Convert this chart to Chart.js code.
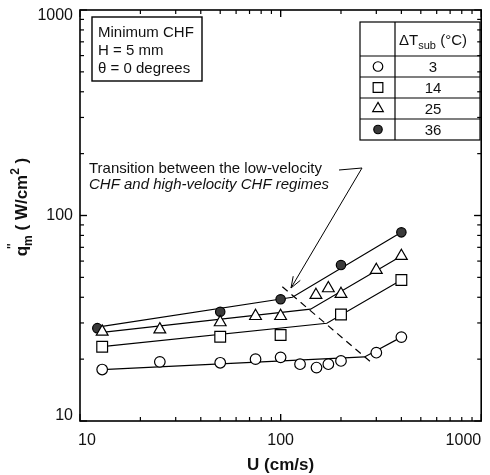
<!DOCTYPE html>
<html>
<head>
<meta charset="utf-8">
<script src="https://cdn.jsdelivr.net/npm/chart.js@4.4.0/dist/chart.umd.min.js"></script>
<style>
  html, body { margin: 0; padding: 0; background: #fff; }
</style>
</head>
<body>
<canvas id="grafica" width="490" height="475"></canvas>
<script>
// --- Data ---
const u3  = [12.9, 25, 50, 75, 100, 125, 151, 173, 200, 300, 400];
const q3  = [17.8, 19.4, 19.2, 20.0, 20.4, 18.9, 18.2, 18.9, 19.6, 21.5, 25.6];

const u14 = [12.9, 50, 100, 200, 400];
const q14 = [23.0, 25.7, 26.2, 33.0, 48.5];

const u25 = [12.9, 25, 50, 75, 100, 150, 173, 200, 300, 400];
const q25 = [27.2, 27.9, 30.2, 32.4, 32.4, 41.0, 44.2, 41.5, 54.3, 63.5];

const u36 = [12.2, 50, 100, 200, 400];
const q36 = [28.3, 34.0, 39.1, 57.4, 82.8];

// fitted lines (start, break, end)
const fitU3  = [12.9, 262, 400];
const fitQ3  = [17.8, 20.5, 25.6];
const fitU14 = [12.9, 170, 400];
const fitQ14 = [23.0, 29.9, 48.5];
const fitU25 = [12.9, 141, 400];
const fitQ25 = [27.0, 35.0, 63.5];
const fitU36 = [12.2, 114.5, 400];
const fitQ36 = [28.6, 40.0, 82.8];

// transition (dashed)
const transU = [102, 290];
const transQ = [45.0, 18.9];

const xTicks = [10, 100, 1000];
const yTicks = [10, 100, 1000];
const subTemps = ['3', '14', '25', '36'];

const FONT = '"Liberation Sans", Arial, Helvetica, sans-serif';

const pts = (us, qs) => us.map((u, i) => ({ x: u, y: qs[i] }));

function lineSet(us, qs, dash) {
  return {
    data: pts(us, qs), showLine: true, pointRadius: 0,
    borderColor: '#000', borderWidth: 1.2, borderDash: dash || [], order: 2
  };
}

const marks = [
  { pointStyle: 'circle',   radius: 5.3, fill: '#fff' },
  { pointStyle: 'rect',     radius: 7.6, fill: '#fff' },
  { pointStyle: 'triangle', radius: 6.8, fill: '#fff' },
  { pointStyle: 'circle',   radius: 4.7, fill: '#3a3a3a' }
];

function markSet(us, qs, m) {
  return {
    data: pts(us, qs), showLine: false,
    pointStyle: m.pointStyle, pointRadius: m.radius,
    backgroundColor: m.fill, borderColor: '#000', borderWidth: 1.2, order: 1
  };
}

// --- Decoration: frame, ticks, labels, boxes ---
const decor = {
  id: 'decor',
  afterDatasetsDraw(chart) {
    const { ctx, chartArea: a, scales: { x, y } } = chart;
    ctx.save();
    ctx.strokeStyle = '#000';
    ctx.fillStyle = '#111';

    const seg = (x1, y1, x2, y2) => { ctx.beginPath(); ctx.moveTo(x1, y1); ctx.lineTo(x2, y2); ctx.stroke(); };

    ctx.lineWidth = 1.6;
    ctx.strokeRect(a.left, a.top, a.right - a.left, a.bottom - a.top);

    // ticks inward, on all four sides
    ctx.lineWidth = 1.2;
    for (let d = 10; d < 1000; d *= 10) {
      for (let k = 1; k <= 10; k++) {
        const v = d * k;
        const len = (k === 1 || k === 10) ? 7 : 4;
        const px = x.getPixelForValue(v);
        const py = y.getPixelForValue(v);
        seg(px, a.bottom, px, a.bottom - len);
        seg(px, a.top, px, a.top + len);
        seg(a.left, py, a.left + len, py);
        seg(a.right, py, a.right - len, py);
      }
    }

    // tick labels
    ctx.font = '16px ' + FONT;
    ctx.textBaseline = 'alphabetic';
    xTicks.forEach((v, i) => {
      const px = x.getPixelForValue(v);
      if (i === 0) { ctx.textAlign = 'left'; ctx.fillText(String(v), px - 2, 445); }
      else if (i === xTicks.length - 1) { ctx.textAlign = 'right'; ctx.fillText(String(v), Math.min(px, chart.width - 2), 445); }
      else { ctx.textAlign = 'center'; ctx.fillText(String(v), px, 445); }
    });
    ctx.textAlign = 'right';
    ctx.textBaseline = 'middle';
    yTicks.forEach(v => {
      const py = Math.min(Math.max(y.getPixelForValue(v), a.top + 6), a.bottom - 5);
      ctx.fillText(String(v), a.left - 7, py);
    });

    // x title
    ctx.font = 'bold 17px ' + FONT;
    ctx.textAlign = 'center';
    ctx.textBaseline = 'alphabetic';
    ctx.fillText('U (cm/s)', (a.left + a.right) / 2, 470);

    // y title  q''m ( W/cm2 )
    ctx.save();
    ctx.translate(27, 207);
    ctx.rotate(-Math.PI / 2);
    ctx.textAlign = 'left';
    const big = 'bold 17px ' + FONT, small = 'bold 12px ' + FONT;
    ctx.font = big;   const wq = ctx.measureText('q').width;
    ctx.font = small; const wm = ctx.measureText('m').width;
    ctx.font = big;   const wa = ctx.measureText(' ( W/cm').width;
    ctx.font = small; const w2 = ctx.measureText('2').width;
    ctx.font = big;   const wb = ctx.measureText(' )').width;
    let cx = -(wq + wm + wa + w2 + wb) / 2;
    ctx.font = big;   ctx.fillText('q', cx, 0);
    ctx.font = small; ctx.fillText("''", cx + wq * 0.7, -11);
    ctx.fillText('m', cx + wq, 5);
    cx += wq + wm;
    ctx.font = big;   ctx.fillText(' ( W/cm', cx, 0); cx += wa;
    ctx.font = small; ctx.fillText('2', cx, -8); cx += w2;
    ctx.font = big;   ctx.fillText(' )', cx, 0);
    ctx.restore();

    // top-left info box
    ctx.lineWidth = 1.4;
    ctx.strokeRect(92, 17, 110, 64);
    ctx.font = '15px ' + FONT;
    ctx.textAlign = 'left';
    ctx.fillText('Minimum CHF', 98, 37);
    ctx.fillText('H = 5 mm', 98, 55);
    ctx.fillText('\u03B8 = 0 degrees', 98, 73);

    // legend table
    const tl = 360, tr = 480, tdiv = 395;
    const rows = [22, 56, 77, 98, 119, 140];
    ctx.lineWidth = 1.2;
    ctx.strokeRect(tl, rows[0], tr - tl, rows[rows.length - 1] - rows[0]);
    seg(tdiv, rows[0], tdiv, rows[rows.length - 1]);
    for (let i = 1; i < rows.length - 1; i++) seg(tl, rows[i], tr, rows[i]);

    ctx.font = '15px ' + FONT;
    const wD = ctx.measureText('\u0394T').width;
    ctx.font = '11px ' + FONT;
    const wS = ctx.measureText('sub').width;
    ctx.font = '15px ' + FONT;
    const wC = ctx.measureText(' (\u00B0C)').width;
    let hx = 433 - (wD + wS + wC) / 2;
    ctx.fillText('\u0394T', hx, 45); hx += wD;
    ctx.font = '11px ' + FONT; ctx.fillText('sub', hx, 49); hx += wS;
    ctx.font = '15px ' + FONT; ctx.fillText(' (\u00B0C)', hx, 45);

    ctx.textAlign = 'center';
    ctx.textBaseline = 'middle';
    subTemps.forEach((t, i) => {
      const cy = (rows[i + 1] + rows[i + 2]) / 2;
      ctx.fillStyle = '#111';
      ctx.fillText(t, 433, cy + 1);
      const m = marks[i];
      ctx.fillStyle = m.fill;
      ctx.lineWidth = 1.2;
      Chart.helpers.drawPoint(ctx, { pointStyle: m.pointStyle, radius: m.radius * 0.9, rotation: 0, borderWidth: 1.2 }, 378, cy);
    });

    // annotation
    ctx.fillStyle = '#111';
    ctx.textAlign = 'left';
    ctx.textBaseline = 'alphabetic';
    ctx.font = '15px ' + FONT;
    ctx.fillText('Transition between the low-velocity', 89, 173);
    ctx.font = 'italic 15px ' + FONT;
    ctx.fillText('CHF and high-velocity CHF regimes', 89, 189);

    ctx.lineWidth = 1;
    const tipX = 291, tipY = 288;
    seg(339, 170, 362, 168);
    seg(362, 168, tipX, tipY);
    const ang = Math.atan2(tipY - 168, tipX - 362);
    const hl = 12;
    seg(tipX, tipY, tipX - hl * Math.cos(ang - 0.35), tipY - hl * Math.sin(ang - 0.35));
    seg(tipX, tipY, tipX - hl * Math.cos(ang + 0.35), tipY - hl * Math.sin(ang + 0.35));

    ctx.restore();
  }
};

new Chart(document.getElementById('grafica'), {
  type: 'scatter',
  data: {
    datasets: [
      markSet(u3, q3, marks[0]),
      markSet(u14, q14, marks[1]),
      markSet(u25, q25, marks[2]),
      markSet(u36, q36, marks[3]),
      lineSet(fitU3, fitQ3),
      lineSet(fitU14, fitQ14),
      lineSet(fitU25, fitQ25),
      lineSet(fitU36, fitQ36),
      lineSet(transU, transQ, [7, 5])
    ]
  },
  options: {
    responsive: false,
    animation: false,
    layout: { padding: { left: 80, right: 2, top: 10, bottom: 54 } },
    plugins: { legend: { display: false }, tooltip: { enabled: false } },
    scales: {
      x: { type: 'logarithmic', min: 10, max: 1000, display: false },
      y: { type: 'logarithmic', min: 10, max: 1000, display: false }
    }
  },
  plugins: [decor]
});
</script>
</body>
</html>
